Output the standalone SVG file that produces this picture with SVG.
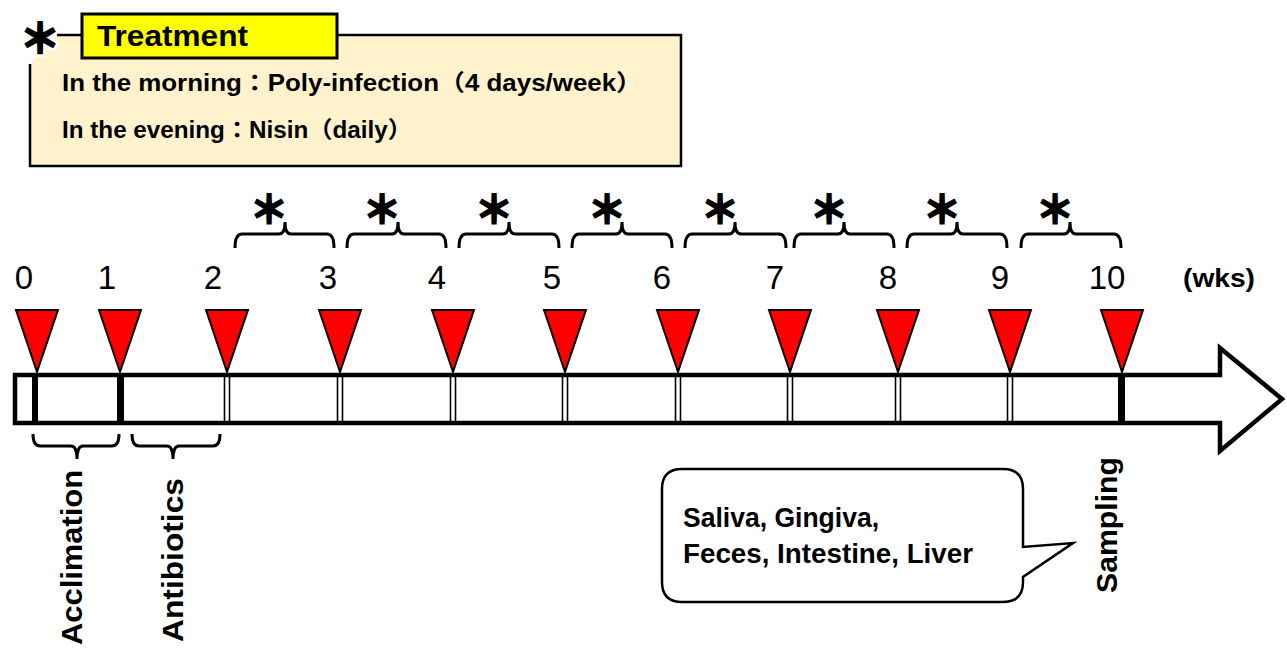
<svg xmlns="http://www.w3.org/2000/svg" width="1287" height="648" viewBox="0 0 1287 648">
<style>
  text { font-family: "Liberation Sans", "Noto Sans CJK JP", sans-serif; fill: #000; }
  .wk { font-size: 33px; text-anchor: middle; }
  .b { font-weight: bold; }
  .star { font-family: "Noto Sans CJK JP", sans-serif; font-weight: bold; font-size: 38px; text-anchor: middle; stroke: #000; stroke-width: 2.2; }
  .tri { fill: #FF0000; stroke: #000; stroke-width: 2; stroke-linejoin: miter; }
  .brk { fill: none; stroke: #000; stroke-width: 3; }
  .thin { stroke: #000; stroke-width: 1.6; }
  .thick { fill: #000; }
</style>

<g id="treatment">
  <polygon points="30,64 38,56 57,35 681,35 681,166 30,166" fill="#FFF2CC"/>
  <path d="M57,35 H681 V166 H30 V64" fill="none" stroke="#000" stroke-width="2.5"/>
  <text x="40" y="53" font-family="Noto Sans CJK JP, sans-serif" font-weight="bold" font-size="40" text-anchor="middle" fill="#000" stroke="#fff" stroke-width="8" paint-order="stroke">＊</text>
  <text x="40" y="53" font-family="Noto Sans CJK JP, sans-serif" font-weight="bold" font-size="40" text-anchor="middle" fill="#000" stroke="#000" stroke-width="2.4">＊</text>
  <rect x="82" y="14" width="255" height="44" fill="#FFFF00" stroke="#000" stroke-width="3"/>
  <text x="97" y="46" class="b" font-size="29" textLength="151" lengthAdjust="spacingAndGlyphs">Treatment</text>
  <text x="62" y="91" class="b" font-size="23" textLength="580" lengthAdjust="spacingAndGlyphs">In the morning：Poly-infection（4 days/week）</text>
  <text x="62" y="138" class="b" font-size="23" textLength="350" lengthAdjust="spacingAndGlyphs">In the evening：Nisin（daily）</text>
</g>

<g id="timeline">
  <path d="M15,375 H1220 V348 L1282,399 L1220,451 V423 H15 Z" fill="#fff" stroke="#000" stroke-width="4.5" stroke-linejoin="miter"/>
  <rect class="thick" x="32" y="375" width="6" height="48"/>
  <rect class="thick" x="117" y="375" width="7" height="48"/>
  <rect class="thick" x="1118" y="375" width="7" height="48"/>
  <g class="thin">
    <line x1="224.5" y1="375" x2="224.5" y2="423"/><line x1="229.5" y1="375" x2="229.5" y2="423"/>
    <line x1="337.5" y1="375" x2="337.5" y2="423"/><line x1="342.5" y1="375" x2="342.5" y2="423"/>
    <line x1="450.5" y1="375" x2="450.5" y2="423"/><line x1="455.5" y1="375" x2="455.5" y2="423"/>
    <line x1="562.5" y1="375" x2="562.5" y2="423"/><line x1="567.5" y1="375" x2="567.5" y2="423"/>
    <line x1="675.5" y1="375" x2="675.5" y2="423"/><line x1="680.5" y1="375" x2="680.5" y2="423"/>
    <line x1="787.5" y1="375" x2="787.5" y2="423"/><line x1="792.5" y1="375" x2="792.5" y2="423"/>
    <line x1="895.5" y1="375" x2="895.5" y2="423"/><line x1="900.5" y1="375" x2="900.5" y2="423"/>
    <line x1="1007.5" y1="375" x2="1007.5" y2="423"/><line x1="1012.5" y1="375" x2="1012.5" y2="423"/>
  </g>
</g>

<g id="markers">
  <polygon class="tri" points="16,310 58,310 37,372"/>
  <polygon class="tri" points="99,310 141,310 120,372"/>
  <polygon class="tri" points="206,310 248,310 227,372"/>
  <polygon class="tri" points="319,310 361,310 340,372"/>
  <polygon class="tri" points="432,310 474,310 453,372"/>
  <polygon class="tri" points="544,310 586,310 565,372"/>
  <polygon class="tri" points="657,310 699,310 678,372"/>
  <polygon class="tri" points="769,310 811,310 790,372"/>
  <polygon class="tri" points="877,310 919,310 898,372"/>
  <polygon class="tri" points="989,310 1031,310 1010,372"/>
  <polygon class="tri" points="1101,310 1143,310 1122,372"/>
</g>

<g id="week-labels">
  <text class="wk" x="24" y="289">0</text>
  <text class="wk" x="107" y="289">1</text>
  <text class="wk" x="213" y="289">2</text>
  <text class="wk" x="328" y="289">3</text>
  <text class="wk" x="437" y="289">4</text>
  <text class="wk" x="552" y="289">5</text>
  <text class="wk" x="662" y="289">6</text>
  <text class="wk" x="775" y="289">7</text>
  <text class="wk" x="888" y="289">8</text>
  <text class="wk" x="1000" y="289">9</text>
  <text class="wk" x="1107" y="289">10</text>
  <text x="1183" y="287" class="b" font-size="25" textLength="72" lengthAdjust="spacingAndGlyphs">(wks)</text>
</g>

<g id="treatment-brackets">
  <path class="brk" d="M235,248 Q235,234 242,234 H279 Q285,234 285,222 Q285,234 291,234 H327 Q334,234 334,248"/>
  <path class="brk" d="M347,248 Q347,234 354,234 H392 Q398,234 398,222 Q398,234 404,234 H439 Q446,234 446,248"/>
  <path class="brk" d="M459,248 Q459,234 466,234 H503 Q509,234 509,222 Q509,234 515,234 H552 Q559,234 559,248"/>
  <path class="brk" d="M572,248 Q572,234 579,234 H616 Q622,234 622,222 Q622,234 628,234 H665 Q672,234 672,248"/>
  <path class="brk" d="M685,248 Q685,234 692,234 H729 Q735,234 735,222 Q735,234 741,234 H779 Q786,234 786,248"/>
  <path class="brk" d="M794,248 Q794,234 801,234 H838 Q844,234 844,222 Q844,234 850,234 H887 Q894,234 894,248"/>
  <path class="brk" d="M907,248 Q907,234 914,234 H951 Q957,234 957,222 Q957,234 963,234 H1000 Q1007,234 1007,248"/>
  <path class="brk" d="M1021,248 Q1021,234 1028,234 H1064 Q1070,234 1070,222 Q1070,234 1076,234 H1114 Q1121,234 1121,248"/>
  <g class="star">
    <text x="269" y="223">＊</text>
    <text x="382" y="223">＊</text>
    <text x="494" y="223">＊</text>
    <text x="607" y="223">＊</text>
    <text x="720" y="223">＊</text>
    <text x="829" y="223">＊</text>
    <text x="942" y="223">＊</text>
    <text x="1055" y="223">＊</text>
  </g>
</g>

<g id="acclimation">
  <path class="brk" d="M33,434 Q33,446 40,446 H71 Q77,446 77,459 Q77,446 83,446 H112 Q119,446 119,434"/>
  <text class="b" font-size="30" transform="translate(82,645) rotate(-90)" textLength="175" lengthAdjust="spacingAndGlyphs">Acclimation</text>
</g>

<g id="antibiotics">
  <path class="brk" d="M132,434 Q132,446 139,446 H167 Q173,446 173,459 Q173,446 179,446 H213 Q220,446 220,434"/>
  <text class="b" font-size="30" transform="translate(183,642) rotate(-90)" textLength="164" lengthAdjust="spacingAndGlyphs">Antibiotics</text>
</g>

<g id="sampling">
  <text class="b" font-size="30" transform="translate(1117,593) rotate(-90)" textLength="136" lengthAdjust="spacingAndGlyphs">Sampling</text>
</g>

<g id="samples-callout">
  <path d="M682,469 H1003 Q1023,469 1023,489 V547 L1073,543 L1023,577 V582 Q1023,602 1003,602 H682 Q662,602 662,582 V489 Q662,469 682,469 Z" fill="#fff" stroke="#000" stroke-width="2.5" stroke-linejoin="miter"/>
  <text x="683" y="527" class="b" font-size="27" textLength="196" lengthAdjust="spacingAndGlyphs">Saliva, Gingiva,</text>
  <text x="683" y="563" class="b" font-size="27" textLength="290" lengthAdjust="spacingAndGlyphs">Feces, Intestine, Liver</text>
</g>
</svg>
